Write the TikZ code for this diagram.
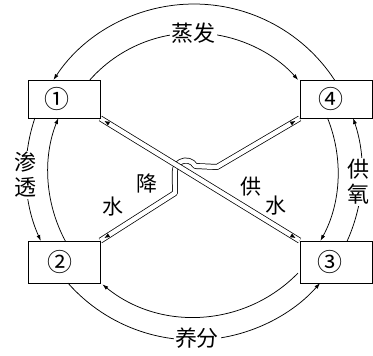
\documentclass[tikz,border=0pt]{standalone}
\usepackage{fontspec}
\setmainfont{Noto Sans CJK SC}
\usetikzlibrary{arrows.meta,calc,backgrounds}
\begin{document}
\begin{tikzpicture}[x=1pt,y=-1pt,
  box/.style={draw,line width=0.9pt,fill=white,minimum width=72pt,inner sep=0pt},
  digit/.style={font=\fontsize{25}{25}\selectfont,inner sep=0pt},
  lab/.style={font=\fontsize{22}{25}\selectfont,inner sep=1.5pt,fill=white,align=center},
  plab/.style={font=\fontsize{21}{21}\selectfont,inner sep=0pt},
  flow/.style={line width=0.75pt,-{Latex[length=6pt,width=4pt]}},
  pipe/.style={line width=0.75pt,double=white,double distance=4.4pt,line join=round},
  tip/.style={-{Latex[length=5pt,width=4.2pt]},line width=0.1pt}
]
\useasboundingbox (0,0) rectangle (373,356);
\coordinate (o) at (194,172);
% boxes
\node[box,minimum height=38pt] (b1) at (64,99) {};
\node[box,minimum height=38pt] (b4) at (336,99) {};
\node[box,minimum height=42pt] (b2) at (64,262) {};
\node[box,minimum height=42pt] (b3) at (336,262) {};
\node[digit] (d1) at ($(b1.center)+(-7,0)$) {①};
\node[digit] (d4) at ($(b4.center)+(-5,0)$) {④};
\node[digit] (d2) at ($(b2.center)+(-4,0)$) {②};
\node[digit] (d3) at ($(b3.center)+(-6,0)$) {③};
% pipes
\coordinate (j1) at (217,167);
\coordinate (j2) at (195.4,166);
\coordinate (j4) at (175,193);
\begin{scope}[on background layer]
\draw[pipe] (b4.south west) -- (j1) -- (j2) arc[start angle=-30,end angle=-180,radius=11] -- (j4) -- (b2.north east);
\draw[pipe] (b1.south east) -- (b3.north west);
\end{scope}
\draw[tip] ($(b1.south east)!10pt!(b3.north west)$) -- ($(b1.south east)!5pt!(b3.north west)$);
\draw[tip] ($(b3.north west)!10pt!(b1.south east)$) -- ($(b3.north west)!5pt!(b1.south east)$);
\draw[tip] ($(b4.south west)!10pt!(j1)$) -- ($(b4.south west)!5pt!(j1)$);
\draw[tip] ($(b2.north east)!10pt!(j4)$) -- ($(b2.north east)!5pt!(j4)$);
% outer arcs
\draw[flow] (o) ++(-33.2:168) arc[start angle=-33.2,end angle=-146.8,radius=168];
\draw[flow] (o) ++(-161.25:168) arc[start angle=-161.25,end angle=-204.25,radius=168];
\draw[flow] (o) ++(-221.36:168) arc[start angle=-221.36,end angle=-318.64,radius=168];
\draw[flow] (o) ++(24.25:168) arc[start angle=24.25,end angle=-18.75,radius=168];
% inner arcs
\draw[flow] (o) ++(-138.56:139) arc[start angle=-138.56,end angle=-41.44,radius=139];
\draw[flow] (o) ++(-208.2:146) arc[start angle=-208.2,end angle=-158.3,radius=146];
\draw[flow] (o) ++(-22:144) arc[start angle=-22,end angle=28.6,radius=144];
\draw[flow] (o) ++(-315.8:145) arc[start angle=-315.8,end angle=-230.8,radius=145];
% labels
\node[lab] (zf) at (193,33) {蒸发};
\node[lab] (yf) at (197,338) {养分};
\node[lab] (st) at (26,175) {渗\\透};
\node[lab] (gy) at (358,182) {供\\氧};
\node[plab] (jiang) at (147,184) {降};
\node[plab] (shui1) at (113,207) {水};
\node[plab] (gong) at (251,187) {供};
\node[plab] (shui2) at (276,206) {水};
\end{tikzpicture}
\end{document}
